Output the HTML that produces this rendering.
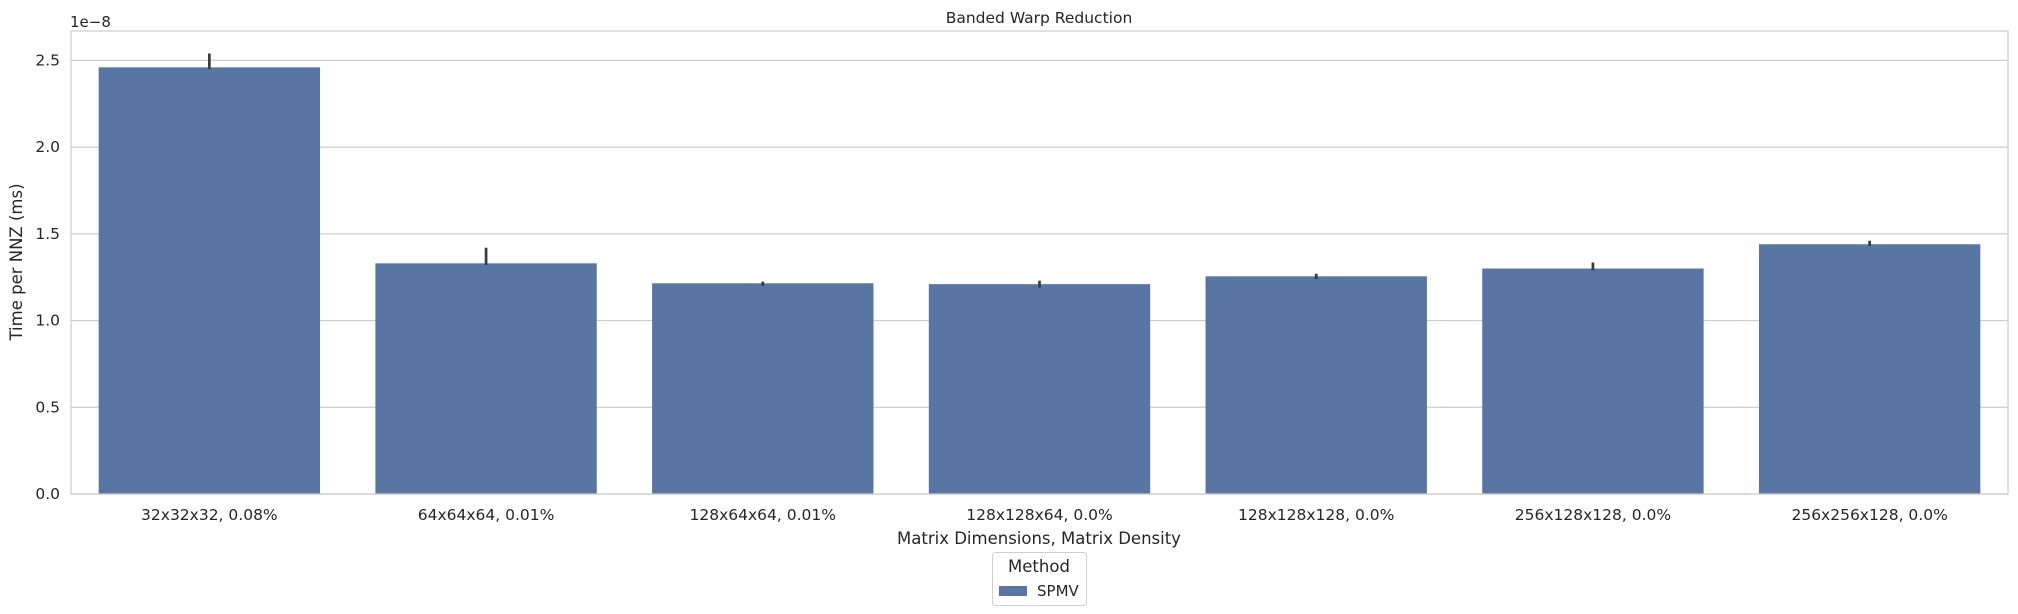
<!DOCTYPE html>
<html><head><meta charset="utf-8"><style>
body{margin:0;background:#fff;}
svg{display:block;font-family:"DejaVu Sans","Liberation Sans",sans-serif;}
</style></head><body>
<svg id="chart" width="2018" height="614"></svg>
<script>
const categories=["32x32x32, 0.08%","64x64x64, 0.01%","128x64x64, 0.01%","128x128x64, 0.0%","128x128x128, 0.0%","256x128x128, 0.0%","256x256x128, 0.0%"];
const values=[2.46,1.33,1.215,1.21,1.255,1.30,1.44];
const errLow=[2.45,1.32,1.20,1.19,1.24,1.29,1.43];
const errHigh=[2.54,1.42,1.225,1.23,1.27,1.335,1.46];
const yTicks=[0,0.5,1.0,1.5,2.0,2.5];
const yTickLabels=["0.0","0.5","1.0","1.5","2.0","2.5"];

const NS="http://www.w3.org/2000/svg";
const svg=document.getElementById('chart');
const L=71,R=2008,T=31,B=494;
function y(v){return B-v*(B-60.4)/2.5;}
const bw=(R-L)/categories.length;
function x(i){return L+bw*(i+0.5);}
function mk(tag,attrs,parent){const e=document.createElementNS(NS,tag);for(const k in attrs)e.setAttribute(k,attrs[k]);(parent||svg).appendChild(e);return e;}

yTicks.forEach((t,i)=>{
  const g=mk('line',{x1:L,x2:R,y1:y(t),y2:y(t),stroke:'#cccccc','stroke-width':1.2});
  
  
  const tx=mk('text',{x:L-11,y:y(t)+5,'text-anchor':'end','font-size':15.5,fill:'#262626'});
  tx.textContent=yTickLabels[i];
  
  
});
categories.forEach((c,i)=>{
  const w=bw*0.8;
  const r=mk('rect',{x:x(i)-w/2,y:y(values[i]),width:w,height:B-y(values[i]),fill:'#5975a4'});
  
  
  const e=mk('line',{x1:x(i),x2:x(i),y1:y(errLow[i]),y2:y(errHigh[i]),stroke:'#3b3b3b','stroke-width':2.7});
  
  
  const t=mk('text',{x:x(i),y:520,'text-anchor':'middle','font-size':15.5,fill:'#262626'});
  t.textContent=c;
  
  
});
const frame=mk('rect',{x:L,y:T,width:R-L,height:B-T,fill:'none',stroke:'#cccccc','stroke-width':1.2});


</script>
<svg style="position:absolute;left:0;top:0;font-family:'DejaVu Sans','Liberation Sans',sans-serif" width="2018" height="614">
<text x="1039" y="23" text-anchor="middle" font-size="15.5" fill="#262626">Banded Warp Reduction</text>
<text x="70" y="27" font-size="15" fill="#262626">1e−8</text>
<text x="1039" y="544" text-anchor="middle" font-size="16.5" fill="#262626">Matrix Dimensions, Matrix Density</text>
<text transform="translate(22,262) rotate(-90)" text-anchor="middle" font-size="16.5" fill="#262626">Time per NNZ (ms)</text>
<g>
<rect x="992.5" y="552.5" width="94" height="53" rx="3" fill="#fff" stroke="#d0d0d0"/>
<text x="1039" y="572" text-anchor="middle" font-size="16.5" fill="#262626">Method</text>
<rect x="999" y="586" width="28" height="10" fill="#5975a4"/>
<text x="1037" y="596" font-size="15" fill="#262626">SPMV</text>
</g>
</svg>
</body></html>
